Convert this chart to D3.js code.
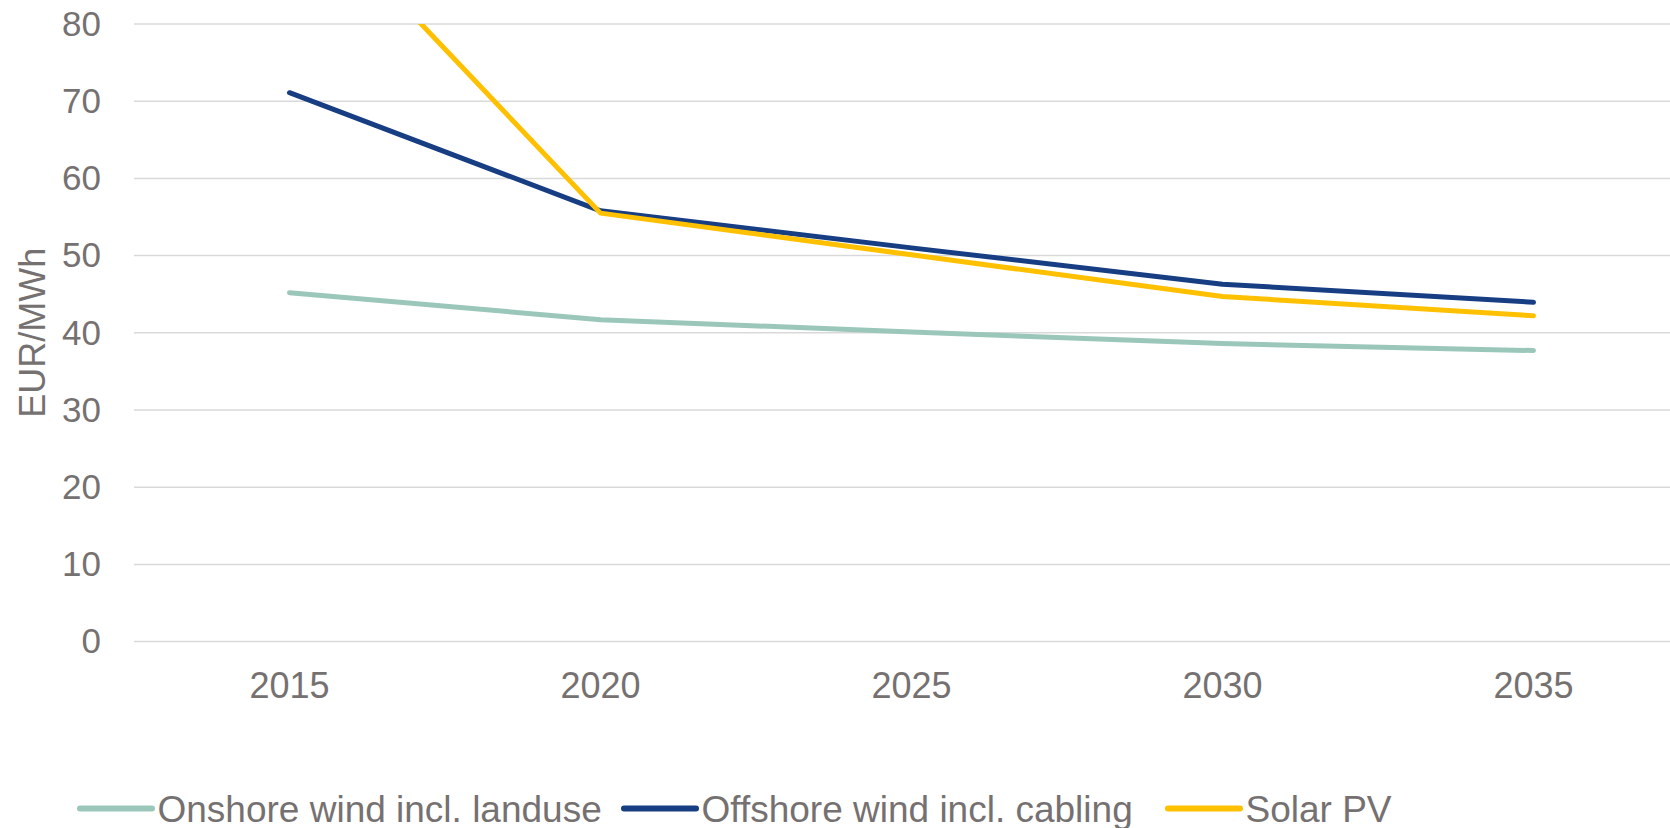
<!DOCTYPE html>
<html>
<head>
<meta charset="utf-8">
<script src="https://cdn.jsdelivr.net/npm/d3@7"></script>
<style>
  html, body { margin: 0; padding: 0; background: #fff; }
  svg { display: block; font-family: "Liberation Sans", Arial, sans-serif; }
</style>
</head>
<body>
<svg id="chart" width="1670" height="828"></svg>
<script>
/* Levelised cost line chart, EUR/MWh */

const years = ["2015", "2020", "2025", "2030", "2035"];
const onshore  = [45.2, 41.7, 40.1, 38.6, 37.7];
const offshore = [71.1, 55.8, 51.0, 46.3, 43.95];
const solar    = [98.0, 55.5, 50.1, 44.7, 42.2];
const yTicks   = [0, 10, 20, 30, 40, 50, 60, 70, 80];

const seriesNames  = ["Onshore wind incl. landuse", "Offshore wind incl. cabling", "Solar PV"];
const seriesValues = [onshore, offshore, solar];
const colors       = ["#9BC7BA", "#173E83", "#FFC000"];

const W = 1670, H = 828;
const plot = { left: 134, right: 1689, top: 24, bottom: 641.6 };
const textColor = "#767171";

const svg = d3.select("#chart");

const x = d3.scaleBand().domain(years).range([plot.left, plot.right]);
const y = d3.scaleLinear().domain([0, 80]).range([plot.bottom, plot.top]);

// gridlines
svg.append("g")
  .selectAll("line")
  .data(yTicks)
  .join("line")
  .attr("x1", plot.left).attr("x2", W)
  .attr("y1", d => y(d)).attr("y2", d => y(d))
  .attr("stroke", "#D9D9D9")
  .attr("stroke-width", 1.5);

// y axis labels
const yAxis = svg.append("g")
  .attr("transform", `translate(${plot.left},0)`)
  .call(d3.axisLeft(y).tickValues(yTicks).tickSize(0).tickPadding(33));
yAxis.select(".domain").remove();
yAxis.selectAll("text")
  .attr("fill", textColor)
  .attr("font-size", 35)
  .attr("font-family", "Liberation Sans, Arial, sans-serif");

// x axis labels
const xAxis = svg.append("g")
  .attr("transform", `translate(0,${plot.bottom})`)
  .call(d3.axisBottom(x).tickSize(0).tickPadding(31));
xAxis.select(".domain").remove();
xAxis.selectAll("text")
  .attr("fill", textColor)
  .attr("font-size", 36)
  .attr("font-family", "Liberation Sans, Arial, sans-serif");

// axis title
svg.append("text")
  .attr("transform", `translate(45,${(plot.top + plot.bottom) / 2}) rotate(-90)`)
  .attr("text-anchor", "middle")
  .attr("fill", textColor)
  .attr("font-size", 36)
  .text("EUR/MWh");

// clip to plot area (solar 2015 runs off the top)
svg.append("clipPath").attr("id", "plotClip")
  .append("rect")
  .attr("x", plot.left).attr("y", plot.top)
  .attr("width", W - plot.left).attr("height", plot.bottom - plot.top);

const line = d3.line()
  .x((d, i) => x(years[i]) + x.bandwidth() / 2)
  .y(d => y(d));

svg.append("g")
  .attr("clip-path", "url(#plotClip)")
  .selectAll("path")
  .data(seriesValues)
  .join("path")
  .attr("d", d => line(d))
  .attr("fill", "none")
  .attr("stroke", (d, i) => colors[i])
  .attr("stroke-width", 5)
  .attr("stroke-linecap", "round")
  .attr("stroke-linejoin", "round");

// legend
const legendX = [80, 624, 1168];
const legendY = 808.5;
const lg = svg.append("g")
  .selectAll("g")
  .data(seriesNames)
  .join("g")
  .attr("transform", (d, i) => `translate(${legendX[i]},${legendY})`);

lg.append("line")
  .attr("x1", 0).attr("x2", 72)
  .attr("y1", 0).attr("y2", 0)
  .attr("stroke", (d, i) => colors[i])
  .attr("stroke-width", 6)
  .attr("stroke-linecap", "round");

lg.append("text")
  .attr("x", 77.5)
  .attr("y", 13)
  .attr("fill", textColor)
  .attr("font-size", 37)
  .text(d => d);
</script>
</body>
</html>
